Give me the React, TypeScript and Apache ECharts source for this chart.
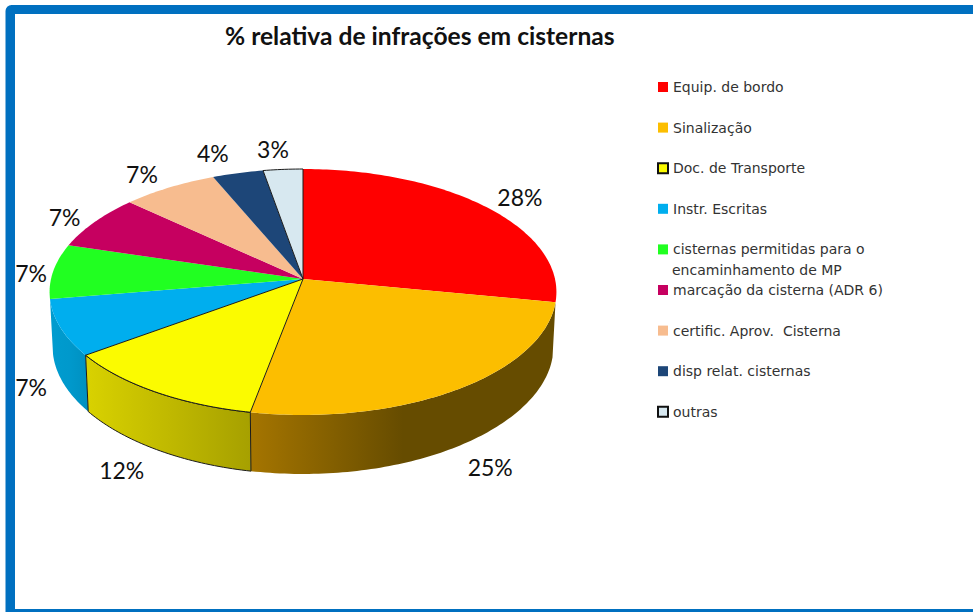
import React, { useEffect, useRef } from "react";
import * as echarts from "echarts";

const categories = [
  "Equip. de bordo",
  "Sinalização",
  "Doc. de Transporte",
  "Instr. Escritas",
  "cisternas permitidas para o encaminhamento de MP",
  "marcação da cisterna (ADR 6)",
  "certific. Aprov.  Cisterna",
  "disp relat. cisternas",
  "outras",
];
const values = [28, 25, 12, 7.4, 7.2, 7.2, 6.8, 3.6, 2.8];
const colors = ["#FF0000", "#FCBE00", "#FBFB00", "#00AEEE", "#21FF21", "#C60060", "#F7BC8F", "#1D4678", "#D7E8F0"];
const outlined = [false, false, true, false, false, false, false, false, true];
const sideStops: (string[] | null)[] = [
  null,
  ["#A57500", "#664C00", "#664C00"],
  ["#D9D200", "#C0B900", "#A6A000"],
  ["#009CCF", "#0099CC", "#0090C0"],
  null, null, null, null, null,
];
const labelOffsets = [
  [35, -9], [32, 78], [-33, 78], [-29.5, 59], [-22, 2], [-30, -5], [-27, -14], [-25, -20], [-10, -20],
];
const titleText = "% relativa de infrações em cisternas";

const FONT_LABEL = "Lato, 'Open Sans', sans-serif";
const FONT_LEGEND = "'DejaVu Sans', sans-serif";
const APEX_X = 303, APEX_Y = 279, RX = 252, RY = 121.6, PERSP = 0.1056;
const total = values.reduce((a, b) => a + b, 0);

function rim(deg: number) {
  const r = (deg * Math.PI) / 180;
  const X = Math.sin(r), Z = Math.cos(r), d = 1 + PERSP * Z;
  return { x: APEX_X + (RX * X) / d, y: APEX_Y - (RY * Z) / d, Z };
}
function lowerRim(deg: number) {
  const p = rim(deg);
  const drop = 55 + (p.Z < 0 ? 4 * p.Z * p.Z : 0);
  return { x: APEX_X + (p.x - APEX_X) * 0.988, y: p.y + drop };
}
function arc(from: number, to: number, fn: (d: number) => { x: number; y: number }) {
  const pts: number[][] = [];
  const n = Math.max(2, Math.ceil(to - from));
  for (let i = 0; i <= n; i++) {
    const p = fn(from + ((to - from) * i) / n);
    pts.push([p.x, p.y]);
  }
  return pts;
}

function sliceRenderer(i: number) {
  const start = (values.slice(0, i).reduce((a, b) => a + b, 0) / total) * 360;
  return (_params: any, api: any) => {
    const sweep = (api.value(0) / total) * 360;
    const end = start + sweep;
    const edge = outlined[i] ? { stroke: "#1a1a1a", lineWidth: 1 } : { stroke: null, lineWidth: 0 };
    const children: any[] = [];
    const stops = sideStops[i];
    if (stops) {
      const upper = arc(start, end, rim);
      const lower = arc(start, end, lowerRim).reverse();
      children.push({
        type: "polygon",
        z2: outlined[i] ? 5 : 1,
        shape: { points: upper.concat(lower) },
        style: {
          fill: new echarts.graphic.LinearGradient(0, 0, 1, 0, stops.map((color, k) => ({ offset: k / (stops.length - 1), color }))),
          ...edge,
        },
      });
    }
    children.push({
      type: "polygon",
      z2: outlined[i] ? 6 : 2,
      shape: { points: [[APEX_X, APEX_Y]].concat(arc(start, end, rim)) },
      style: { fill: colors[i], ...edge },
    });
    const mid = rim(start + sweep / 2);
    children.push({
      type: "text",
      z2: 10,
      x: mid.x + labelOffsets[i][0],
      y: mid.y + labelOffsets[i][1],
      style: {
        text: Math.round((api.value(0) / total) * 100) + "%",
        fill: "#111",
        font: `23px ${FONT_LABEL}`,
        align: "center",
        verticalAlign: "middle",
      },
    });
    return { type: "group", children };
  };
}

export default function App() {
  const ref = useRef<HTMLDivElement>(null);
  useEffect(() => {
    const chart = echarts.init(ref.current!, undefined, { renderer: "svg" });
    chart.setOption({
      animation: false,
      backgroundColor: "#fff",
      title: {
        text: titleText,
        left: 225,
        top: 23,
        padding: 0,
        textStyle: { fontFamily: FONT_LABEL, fontWeight: "bold", fontSize: 24.6, color: "#111" },
      },
      legend: {
        orient: "vertical",
        left: 657,
        top: 80,
        padding: 0,
        itemWidth: 10,
        itemHeight: 10,
        itemGap: 26.6,
        icon: "rect",
        selectedMode: false,
        textStyle: { fontFamily: FONT_LEGEND, fontSize: 14, color: "#333" },
        formatter: (name: string) => name.replace(" encaminhamento de MP", ""),
        data: categories.map((name, i) => ({
          name,
          itemStyle: outlined[i]
            ? { color: colors[i], borderColor: "#111", borderWidth: 2 }
            : { color: colors[i] },
        })),
      },
      graphic: [
        { type: "rect", z: -2, silent: true, shape: { x: 5.5, y: 5, width: 1100, height: 800, r: 6 }, style: { fill: "#0070C0" } },
        { type: "rect", z: -1, silent: true, shape: { x: 15, y: 14, width: 1100, height: 595 }, style: { fill: "#fff" } },
        {
          type: "text",
          x: 672,
          y: 270,
          silent: true,
          style: {
            text: "encaminhamento de MP",
            font: `14px ${FONT_LEGEND}`,
            fill: "#333",
            verticalAlign: "middle",
          },
        },
      ],
      series: categories.map((name, i) => ({
        type: "custom",
        name,
        coordinateSystem: "none",
        silent: true,
        itemStyle: { color: colors[i] },
        renderItem: sliceRenderer(i),
        data: [[values[i]]],
      })),
    });
    return () => chart.dispose();
  }, []);
  return <div ref={ref} style={{ position: "fixed", left: 0, top: 0, width: 973, height: 612 }} />;
}
